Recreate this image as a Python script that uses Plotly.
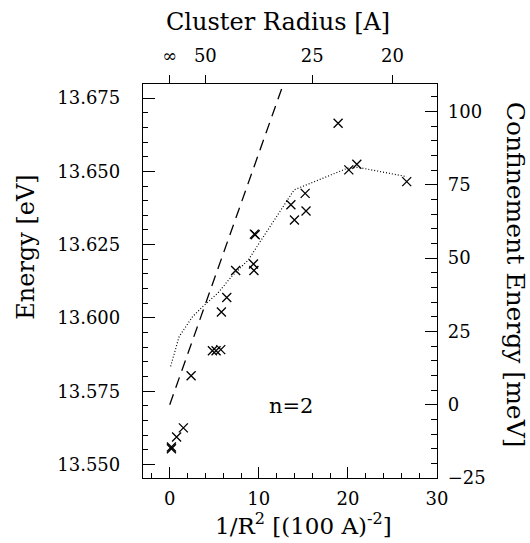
import plotly.graph_objects as go

# Measured data: 1/R^2 [(100 A)^-2] and energy [eV]
cross_x = [0.19, 0.19, 0.77, 1.53, 2.4, 4.79, 5.2, 5.73, 5.8, 6.4, 7.4, 9.4, 9.45,
           9.5, 9.6, 13.6, 14.0, 15.2, 15.3, 18.9, 20.1, 21.0, 26.6]
cross_e = [13.5560, 13.5554, 13.5594, 13.5625, 13.5803, 13.5888, 13.5888, 13.5892,
           13.6020, 13.6070, 13.6162, 13.6184, 13.6162, 13.6286, 13.6284, 13.6386,
           13.6334, 13.6425, 13.6365, 13.6664, 13.6505, 13.6524, 13.6465]

dashed_x = [0.0, 13.5]
dashed_e = [13.5704, 13.6862]

dotted_x = [0.1, 1.06, 2.58, 3.71, 5.41, 6.93, 8.82, 13.96, 19.97, 21.1, 26.6]
dotted_e = [13.5835, 13.5937, 13.6005, 13.6039, 13.6085, 13.6141, 13.6198,
            13.6437, 13.6511, 13.6514, 13.6482]

top_tickvals = [0, 4, 16, 25]
top_ticktext = ["∞", "50", "25", "20"]

FONT = "DejaVu Serif"
W, H = 530, 543
L, R, T, B = 143, 437, 84, 478.5

fig = go.Figure()
fig.add_trace(go.Scatter(x=dashed_x, y=dashed_e, mode="lines",
                         line=dict(color="black", width=1.3, dash="11px,7px"),
                         hoverinfo="skip", showlegend=False))
fig.add_trace(go.Scatter(x=dotted_x, y=dotted_e, mode="lines",
                         line=dict(color="black", width=1.2, dash="1px,2px"),
                         hoverinfo="skip", showlegend=False))
fig.add_trace(go.Scatter(x=cross_x, y=cross_e, mode="markers",
                         marker=dict(symbol="x-thin", size=9, color="black",
                                     line=dict(width=1.3, color="black")),
                         showlegend=False))
# helper trace to realise top and right axes
fig.add_trace(go.Scatter(x=[0], y=[0], xaxis="x2", yaxis="y2", mode="markers",
                         marker=dict(opacity=0), hoverinfo="skip", showlegend=False))

axis_common = dict(showgrid=False, zeroline=False, showline=True, linecolor="black",
                   linewidth=1.3, tickcolor="black", tickwidth=1.1,
                   tickfont=dict(family=FONT, size=18, color="black"))

fig.update_layout(
    width=W, height=H,
    margin=dict(l=L, r=W - R, t=T, b=H - B, pad=0),
    paper_bgcolor="white", plot_bgcolor="white",
    font=dict(family=FONT, color="black"),
    xaxis=dict(range=[-3, 30], dtick=10, tick0=0, ticks="inside", ticklen=11,
               minor=dict(dtick=2, ticks="inside", ticklen=5, tickcolor="black"),
               ticklabelstandoff=4, **axis_common),
    xaxis2=dict(range=[-3, 30], overlaying="x", side="top", anchor="y2",
                tickmode="array", tickvals=top_tickvals, ticktext=top_ticktext,
                ticks="outside", ticklen=8, ticklabelstandoff=6, **axis_common),
    yaxis=dict(range=[13.5454, 13.6798], dtick=0.025, tick0=13.55, tickformat=".3f",
               ticks="inside", ticklen=12,
               minor=dict(dtick=0.005, ticks="inside", ticklen=5, tickcolor="black"),
               ticklabelstandoff=18, **axis_common),
    yaxis2=dict(range=[-25, 109.4], dtick=25, tick0=0, overlaying="y", side="right",
                anchor="x2", ticks="inside", ticklen=12,
                minor=dict(dtick=5, ticks="inside", ticklen=6, tickcolor="black"),
                ticklabelstandoff=6, **axis_common),
)

def px(xp):
    return (xp - L) / (R - L)

def py(yp):
    return (B - yp) / (B - T)

def label(text, xp, yp, size, angle=0):
    fig.add_annotation(text=text, x=px(xp), y=py(yp), xref="paper", yref="paper",
                       xanchor="center", yanchor="middle", showarrow=False,
                       textangle=angle, font=dict(family=FONT, size=size, color="black"))

label("Cluster Radius [A]", 278, 22, 24)
label("1/R<sup>2</sup> [(100 A)<sup>-2</sup>]", 303, 525, 23)
label("Energy [eV]", 26, 248, 24, -90)
label("Confinement Energy [meV]", 515, 275, 25, 90)

fig.add_annotation(text="n=2", x=13.6, y=13.5699, xref="x", yref="y", showarrow=False,
                   font=dict(family=FONT, size=21, color="black"))

fig.write_html("out.html")
